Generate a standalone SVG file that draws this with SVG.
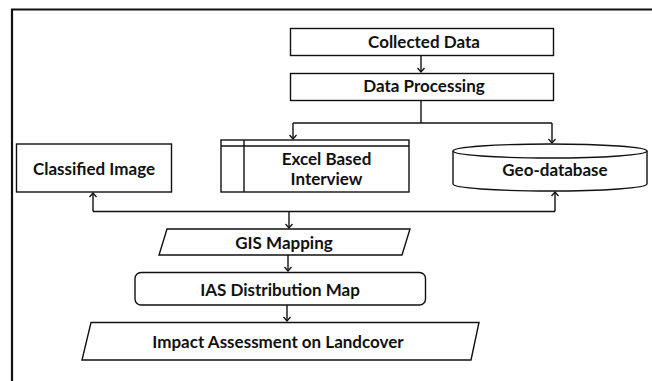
<svg xmlns="http://www.w3.org/2000/svg" width="652" height="381" viewBox="0 0 652 381">
<defs>
<marker id="arr" markerWidth="10" markerHeight="10" refX="5" refY="5" orient="auto" markerUnits="userSpaceOnUse">
<path d="M1,1.5 L5,5 L1,8.5" fill="none" stroke="#111" stroke-width="1.3"/>
</marker>
<style>
.box{fill:#fff;stroke:#111;stroke-width:1.4}
.ln{fill:none;stroke:#111;stroke-width:1.4}
.t{font-family:Lato,"Liberation Sans",sans-serif;font-weight:bold;font-size:17px;fill:#111;text-anchor:middle}
</style>
</defs>
<rect width="652" height="381" fill="#fff"/>
<g id="frame">
<path d="M12,381 V9.5 H652" fill="none" stroke="#111" stroke-width="2.2"/>
</g>
<g id="connectors">
<path class="ln" d="M421,55 V72" marker-end="url(#arr)"/>
<path class="ln" d="M421,100 V123"/>
<path class="ln" d="M293,123 H552"/>
<path class="ln" d="M293,123 V139" marker-end="url(#arr)"/>
<path class="ln" d="M552,123 V143" marker-end="url(#arr)"/>
<path class="ln" d="M93,211.5 H555"/>
<path class="ln" d="M93,211.5 V193" marker-end="url(#arr)"/>
<path class="ln" d="M555,211.5 V192" marker-end="url(#arr)"/>
<path class="ln" d="M289,211.5 V228" marker-end="url(#arr)"/>
<path class="ln" d="M288,255 V271" marker-end="url(#arr)"/>
<path class="ln" d="M287,305 V321" marker-end="url(#arr)"/>
</g>
<g id="collected-data">
<rect class="box" x="290.5" y="28.5" width="263" height="27"/>
<text class="t" x="424" y="48">Collected Data</text>
</g>
<g id="data-processing">
<rect class="box" x="290.5" y="73.5" width="263" height="27"/>
<text class="t" x="424" y="92">Data Processing</text>
</g>
<g id="classified-image">
<rect class="box" x="16.5" y="144" width="155" height="48"/>
<text class="t" x="94" y="175">Classified Image</text>
</g>
<g id="excel-interview">
<rect class="box" x="221" y="140" width="188" height="52"/>
<path class="ln" d="M221,146 H409 M244,140 V192"/>
<text class="t" x="326.5" y="165">Excel Based</text>
<text class="t" x="326.5" y="185">Interview</text>
</g>
<g id="geo-database">
<path class="box" d="M453,151 V184 A97,7 0 0 0 647,184 V151"/>
<ellipse class="box" cx="550" cy="151" rx="97" ry="7"/>
<text class="t" x="555" y="176">Geo-database</text>
</g>
<g id="gis-mapping">
<polygon class="box" points="167,229 410,229 402,255 159,255"/>
<text class="t" x="284" y="249">GIS Mapping</text>
</g>
<g id="ias-map">
<rect class="box" x="135" y="272.5" width="290.5" height="32.5" rx="6"/>
<text class="t" x="280" y="296">IAS Distribution Map</text>
</g>
<g id="impact-assessment">
<polygon class="box" points="91,322.5 479,322.5 471,360 82,360"/>
<text class="t" x="278" y="348">Impact Assessment on Landcover</text>
</g>
</svg>
